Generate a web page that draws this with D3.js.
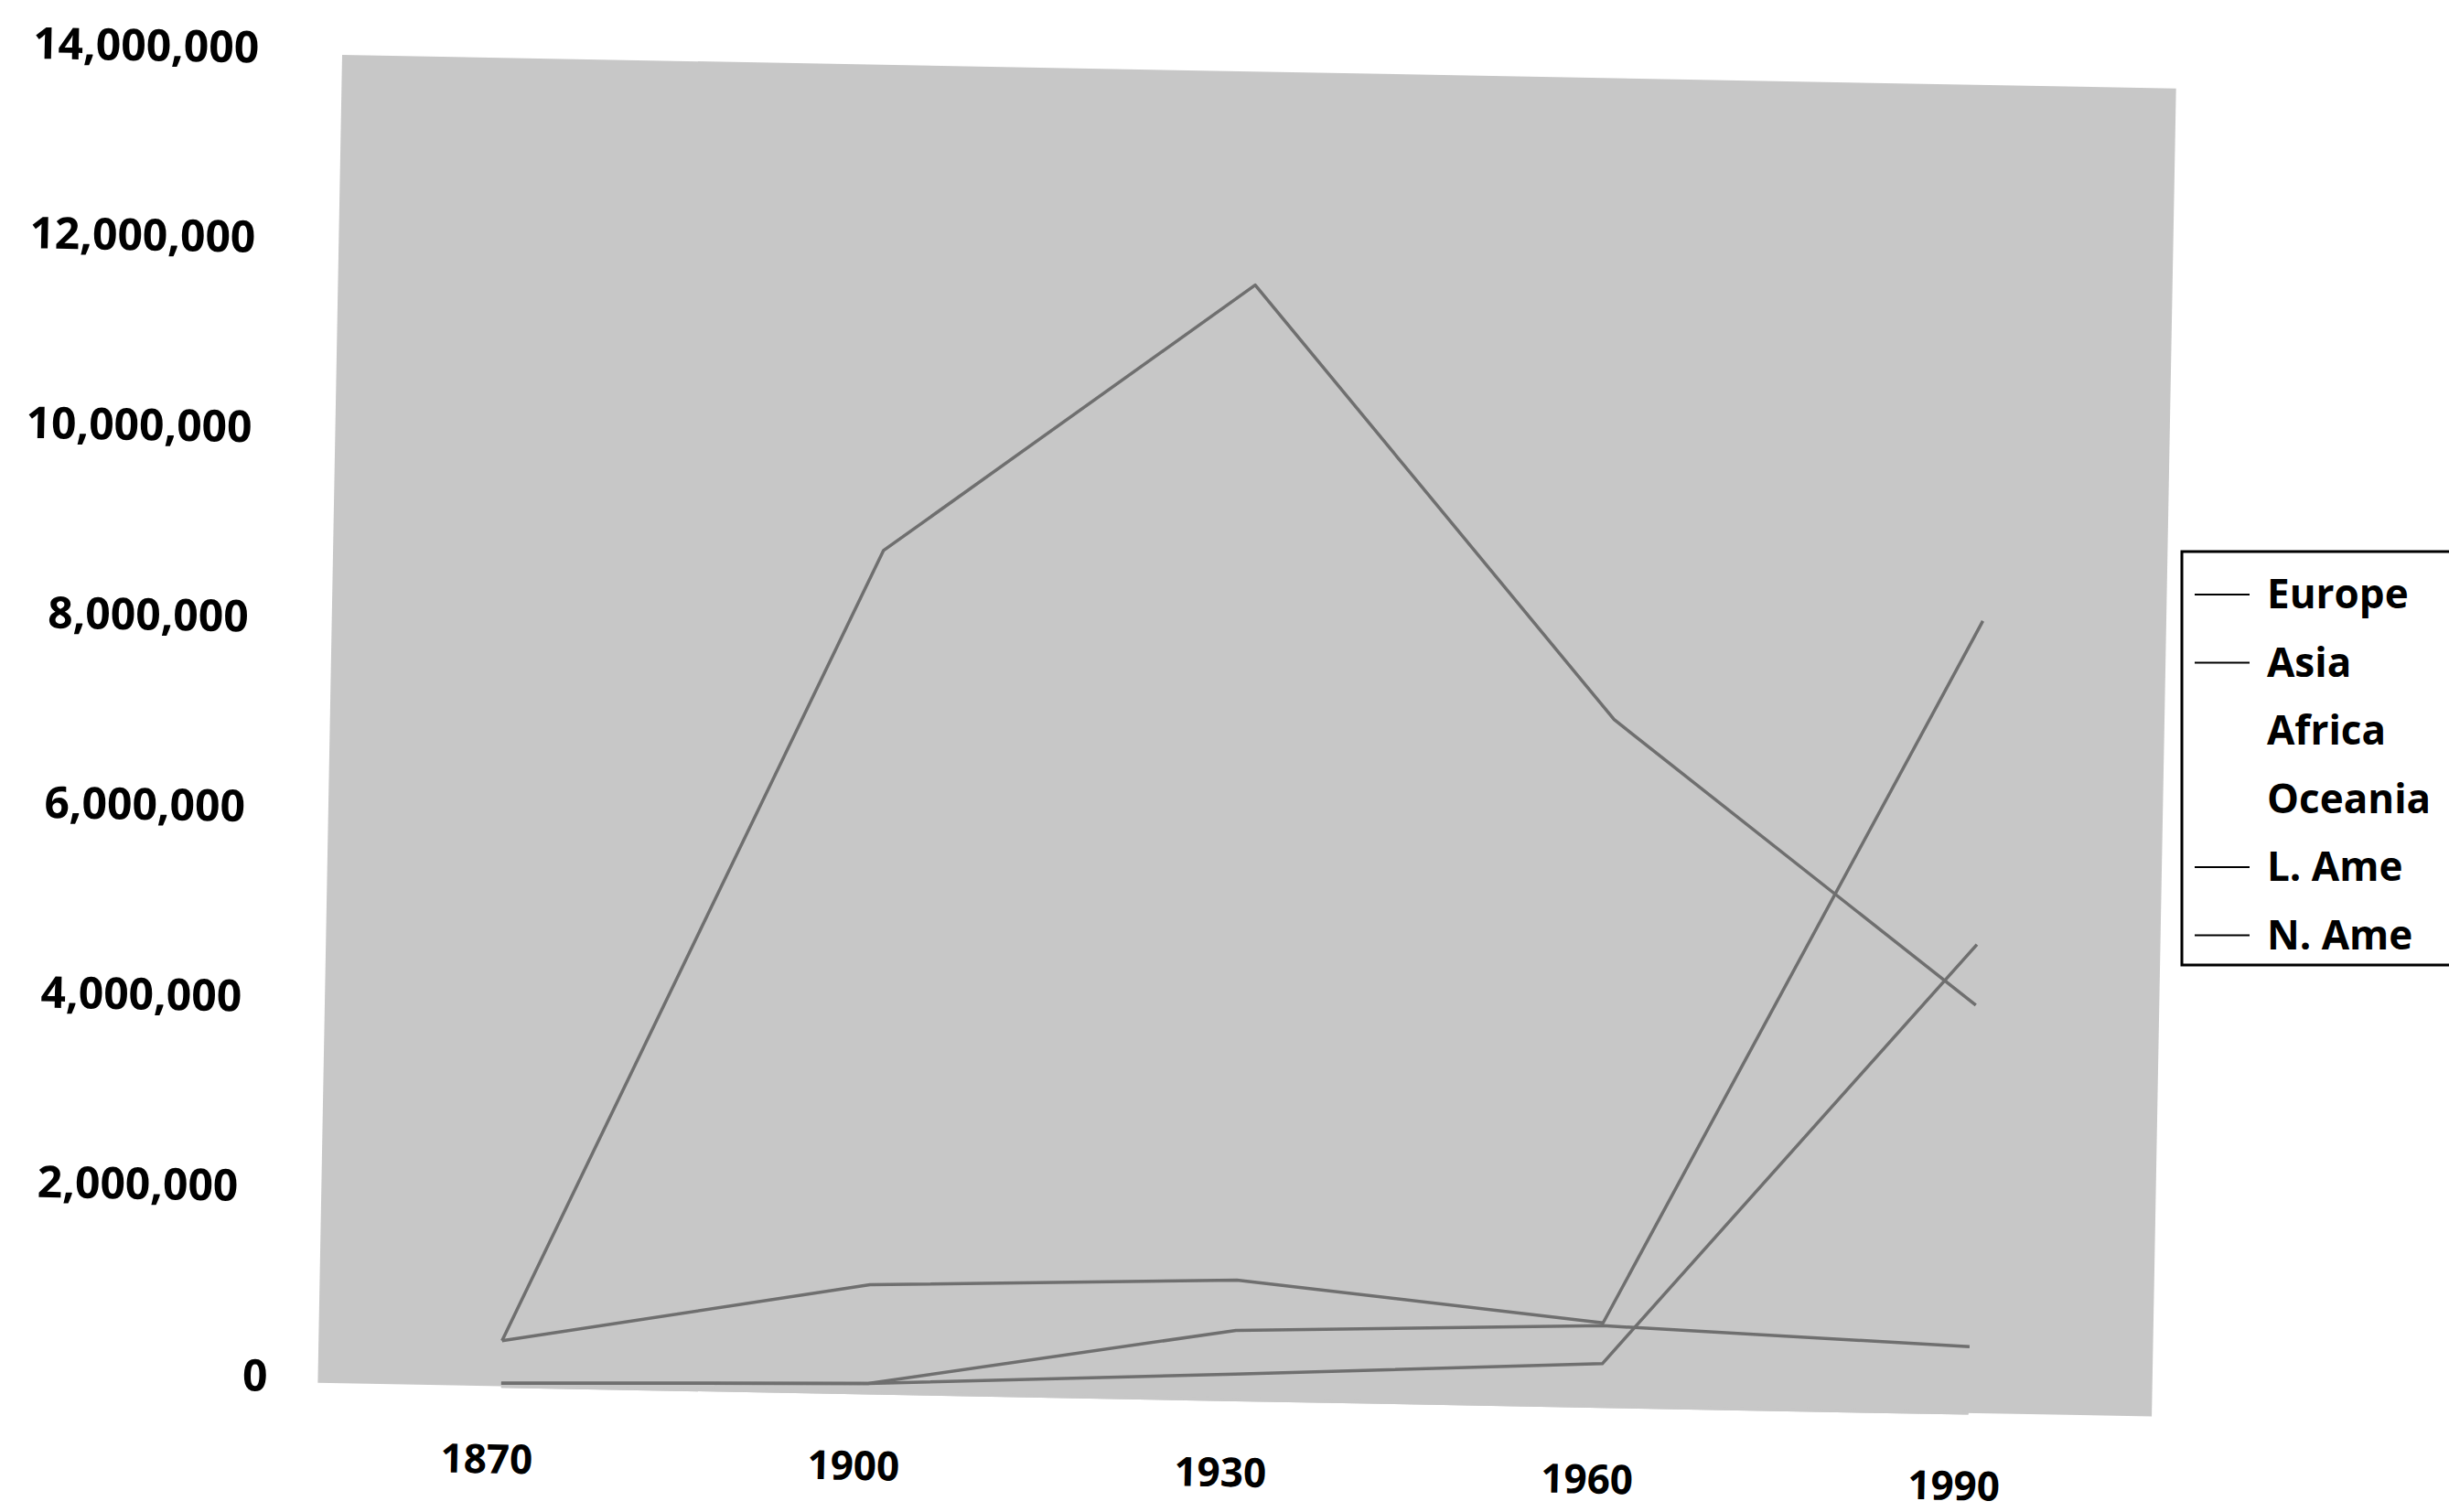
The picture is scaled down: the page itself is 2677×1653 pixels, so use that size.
<!DOCTYPE html>
<html>
<head>
<meta charset="utf-8">
<script src="https://cdn.jsdelivr.net/npm/d3@7"></script>
<style>
  body { margin: 0; background: #fff; }
  svg { display: block; }
  text { font-family: "Open Sans", sans-serif; font-weight: 700; fill: #000; }
</style>
</head>
<body>
<svg id="chart" width="2677" height="1653"></svg>
<script>
// data
const years = ["1870", "1900", "1930", "1960", "1990"];
const europe = [480000, 8880000, 11750000, 7240000, 4300000];
const asia = [480000, 1140000, 1260000, 880000, 8350000];
const africa = [0, 0, 0, 0, 0];
const oceania = [0, 0, 0, 0, 0];
const lAme = [30000, 100000, 730000, 850000, 700000];
const nAme = [30000, 100000, 270000, 450000, 4940000];
const seriesNames = ["Europe", "Asia", "Africa", "Oceania", "L. Ame", "N. Ame"];
const yTicks = [0, 2000000, 4000000, 6000000, 8000000, 10000000, 12000000, 14000000];

const series = [
  { name: "Europe", values: europe, visible: true },
  { name: "Asia", values: asia, visible: true },
  { name: "Africa", values: africa, visible: false },
  { name: "Oceania", values: oceania, visible: false },
  { name: "L. Ame", values: lAme, visible: true },
  { name: "N. Ame", values: nAme, visible: true }
];

const svg = d3.select("#chart");
const width = 2005, height = 1452;
const bg = "#c7c7c7";
const lineColor = "#6f6f6f";

// the scan is tilted slightly clockwise
const g = svg.append("g").attr("transform", "translate(374,60) rotate(1.05)");

g.append("rect")
  .attr("width", width)
  .attr("height", height)
  .attr("fill", bg);

const x = d3.scalePoint().domain(years).range([0, width]).padding(0.5);
const y = d3.scaleLinear().domain([0, 14000000]).range([height, 0]);

// y axis: labels only
const yAxis = g.append("g")
  .call(d3.axisLeft(y).tickValues(yTicks).tickSize(0).tickPadding(91).tickFormat(d3.format(",")));
yAxis.select(".domain").remove();
yAxis.selectAll("text")
  .attr("font-size", 48)
  .attr("font-family", "Open Sans, sans-serif")
  .attr("font-weight", 700)
  .attr("dy", "0.2em")
  .attr("dx", d => d === 0 ? 36 : 0);

// x axis: labels only
const xAxis = g.append("g")
  .attr("transform", `translate(0,${height})`)
  .call(d3.axisBottom(x).tickSize(0).tickPadding(64));
xAxis.select(".domain").remove();
xAxis.selectAll("text")
  .attr("font-size", 44)
  .attr("font-family", "Open Sans, sans-serif")
  .attr("font-weight", 700)
  .attr("dx", -15);

const line = d3.line()
  .x((d, i) => x(years[i]))
  .y(d => y(d));

g.selectAll(".series")
  .data(series)
  .enter()
  .append("path")
  .attr("class", "series")
  .attr("d", d => line(d.values))
  .attr("fill", "none")
  .attr("stroke", d => d.visible ? lineColor : bg)
  .attr("stroke-width", 3.5)
  .attr("stroke-linejoin", "round");

// legend (not tilted)
const legend = svg.append("g").attr("transform", "translate(2385,603)");
legend.append("rect")
  .attr("width", 300)
  .attr("height", 452)
  .attr("fill", "#fff")
  .attr("stroke", "#000")
  .attr("stroke-width", 3);

const item = legend.selectAll(".item")
  .data(series)
  .enter()
  .append("g")
  .attr("class", "item")
  .attr("transform", (d, i) => `translate(0,${47 + i * 74.5})`);

item.append("line")
  .attr("x1", 14).attr("x2", 74)
  .attr("y1", 0).attr("y2", 0)
  .attr("stroke", d => d.visible ? "#000" : "none")
  .attr("stroke-width", 2);

item.append("text")
  .attr("x", 93)
  .attr("dy", "0.35em")
  .attr("font-size", 44)
  .text((d, i) => seriesNames[i]);
</script>
</body>
</html>
